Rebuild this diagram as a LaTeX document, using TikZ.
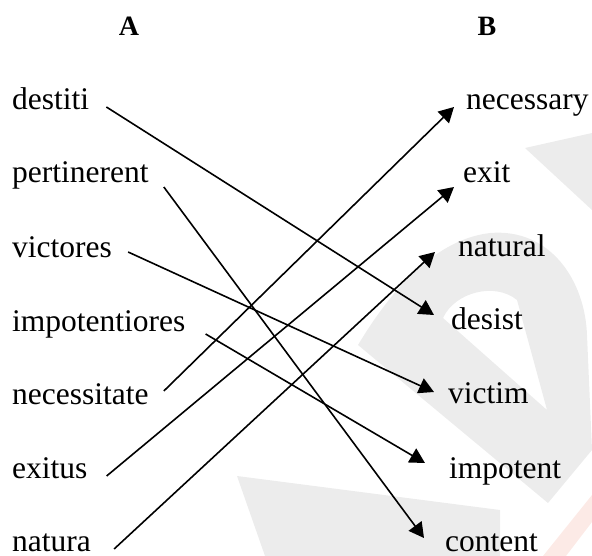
\documentclass[tikz,border=0pt]{standalone}
\usepackage{fontspec}
\setmainfont{Liberation Serif}
\usetikzlibrary{arrows.meta}

\definecolor{markgray}{RGB}{236,236,236}
\definecolor{markred}{RGB}{252,234,230}

\tikzset{
  x=1pt, y=-1pt,
  word/.style={inner sep=0pt, font=\fontsize{31.5}{36}\selectfont},
  leftword/.style={word, anchor=base west},
  rightword/.style={word, anchor=base west},
  colhead/.style={inner sep=0pt, anchor=base, font=\fontsize{28}{32}\selectfont\bfseries},
  link/.style={line width=1.6pt, -{Triangle[length=15pt,width=16pt]}},
  mark/.style={fill=markgray, draw=none}
}

\begin{document}
\begin{tikzpicture}
\useasboundingbox (0,0) rectangle (592,556);

% faint background emblem
\fill[markgray] (525,148) -- (592,133) -- (592,210) -- cycle;
\fill[markgray, even odd rule]
  (358,345) .. controls (385,300) and (430,240) .. (490,233)
  .. controls (550,228) and (585,280) .. (587,335)
  -- (592,450) -- (548,503) -- cycle
  (443,318) .. controls (455,292) and (495,282) .. (517,300)
  -- (547,410) -- cycle;
\fill[markgray] (237,476) -- (500,510) -- (500,556) -- (265,556) -- cycle;
\fill[markred] (592,495) -- (592,522) -- (566,556) -- (543,556) -- cycle;

% column headings
\node[colhead] (hA) at (129,36) {A};
\node[colhead] (hB) at (487,36) {B};

% column A
\node[leftword] (destiti)  at (12,110) {destiti};
\node[leftword] (pertin)   at (12,183) {pertinerent};
\node[leftword] (victores) at (12,258) {victores};
\node[leftword] (impotio)  at (12,331) {impotentiores};
\node[leftword] (necess)   at (12,404) {necessitate};
\node[leftword] (exitus)   at (12,478) {exitus};
\node[leftword] (natura)   at (12,551) {natura};

% column B
\node[rightword] (necessary) at (466,110) {necessary};
\node[rightword] (exit)      at (463,183) {exit};
\node[rightword] (natural)   at (458,257) {natural};
\node[rightword] (desist)    at (451,329) {desist};
\node[rightword] (victim)    at (448,403) {victim};
\node[rightword] (impotent)  at (449,478) {impotent};
\node[rightword] (content)   at (445,551) {content};

% matching arrows
\draw[link] ([shift={(17,-3)}]destiti.base east)  -- ([shift={(-17,-14)}]desist.base west);
\draw[link] ([shift={(15,4)}]pertin.base east)    -- ([shift={(-21,-13)}]content.base west);
\draw[link] ([shift={(16,-6)}]victores.base east) -- ([shift={(-14,-11)}]victim.base west);
\draw[link] ([shift={(20,3)}]impotio.base east)   -- ([shift={(-24,-15)}]impotent.base west);
\draw[link] ([shift={(15,-13)}]necess.base east)  -- ([shift={(-12,-3)}]necessary.base west);
\draw[link] ([shift={(19,-2)}]exitus.base east)   -- ([shift={(-9,4)}]exit.base west);
\draw[link] ([shift={(23,-2)}]natura.base east)   -- ([shift={(-23,-5)}]natural.base west);
\end{tikzpicture}
\end{document}
